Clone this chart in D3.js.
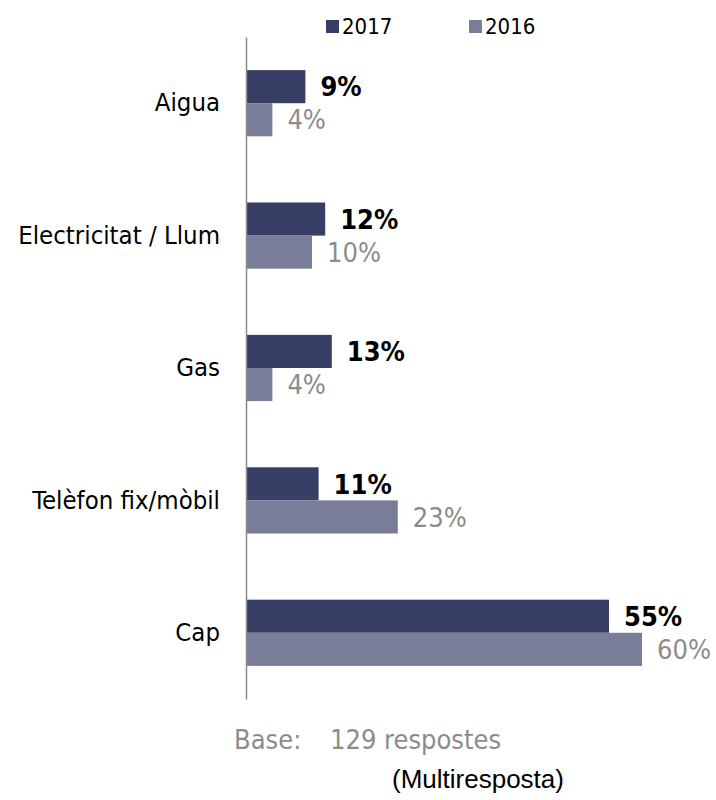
<!DOCTYPE html>
<html>
<head>
<meta charset="utf-8">
<script src="https://cdn.jsdelivr.net/npm/d3@7"></script>
<style>
  html, body { margin: 0; padding: 0; background: #fff; }
  svg { display: block; }
</style>
</head>
<body>
<svg id="chart" width="716" height="800"></svg>
<script>
// Serveis afectats, comparativa 2017 / 2016 (percentatges)
const categories = ["Aigua", "Electricitat / Llum", "Gas", "Telèfon fix/mòbil", "Cap"];
const values2017 = [9, 12, 13, 11, 55];
const values2016 = [4, 10, 4, 23, 60];
const seriesNames = ["2017", "2016"];
const baseLabel = "Base:";
const baseValue = "129 respostes";
const noteText = "(Multiresposta)";

const colors = { "2017": "#373f66", "2016": "#797d99" };
const labelColors = { "2017": "#000000", "2016": "#8c8c8c" };
const labelWeights = { "2017": "bold", "2016": "normal" };
const font = "'DejaVu Sans Condensed', 'DejaVu Sans', sans-serif";

const svg = d3.select("#chart");

const x = d3.scaleLinear().domain([0, 60]).range([246, 642]);
const y = d3.scaleBand().domain(categories).range([37, 699]).paddingInner(0.5).paddingOuter(0.25);
const sub = d3.scaleBand().domain(seriesNames).range([0, y.bandwidth()]);

const rows = categories.map((c, i) => ({
  cat: c,
  series: [
    { key: "2017", value: values2017[i] },
    { key: "2016", value: values2016[i] }
  ]
}));

const groups = svg.selectAll("g.cat")
  .data(rows)
  .join("g")
  .attr("class", "cat")
  .attr("transform", d => `translate(0,${y(d.cat)})`);

groups.selectAll("rect")
  .data(d => d.series)
  .join("rect")
  .attr("x", x(0))
  .attr("y", d => sub(d.key))
  .attr("width", d => x(d.value) - x(0))
  .attr("height", sub.bandwidth())
  .attr("fill", d => colors[d.key]);

groups.selectAll("text.val")
  .data(d => d.series)
  .join("text")
  .attr("class", "val")
  .attr("x", d => x(d.value) + 15)
  .attr("y", d => sub(d.key) + sub.bandwidth() / 2)
  .attr("dy", "0.36em")
  .attr("font-family", font)
  .attr("font-size", 27)
  .attr("font-weight", d => labelWeights[d.key])
  .attr("fill", d => labelColors[d.key])
  .text(d => d.value + "%");

// Category axis on the left (line only, no ticks)
const axis = d3.axisLeft(y).tickSize(0).tickPadding(26);
const axisG = svg.append("g")
  .attr("transform", `translate(${x(0)},0)`)
  .call(axis);
axisG.select(".domain").attr("stroke", "#8a8a8a").attr("stroke-width", 1.5);
axisG.selectAll(".tick text")
  .attr("font-family", font)
  .attr("font-size", 25.5)
  .attr("fill", "#000");

// Legend
const legend = svg.append("g");
const legendX = [326, 469];
seriesNames.forEach((s, i) => {
  legend.append("rect")
    .attr("x", legendX[i]).attr("y", 20)
    .attr("width", 13).attr("height", 13)
    .attr("fill", colors[s]);
  legend.append("text")
    .attr("x", legendX[i] + 16).attr("y", 34)
    .attr("font-family", font)
    .attr("font-size", 22)
    .attr("fill", "#000")
    .text(s);
});

// Footer notes
const footer = svg.append("g")
  .attr("font-family", font)
  .attr("font-size", 27)
  .attr("fill", "#8c8c8c");
footer.append("text").attr("x", 234).attr("y", 749).text(baseLabel);
footer.append("text").attr("x", 330).attr("y", 749).text(baseValue);

svg.append("text")
  .attr("x", 392).attr("y", 788)
  .attr("font-family", "'Liberation Sans', Arial, sans-serif")
  .attr("font-size", 26)
  .attr("fill", "#000")
  .text(noteText);
</script>
</body>
</html>
